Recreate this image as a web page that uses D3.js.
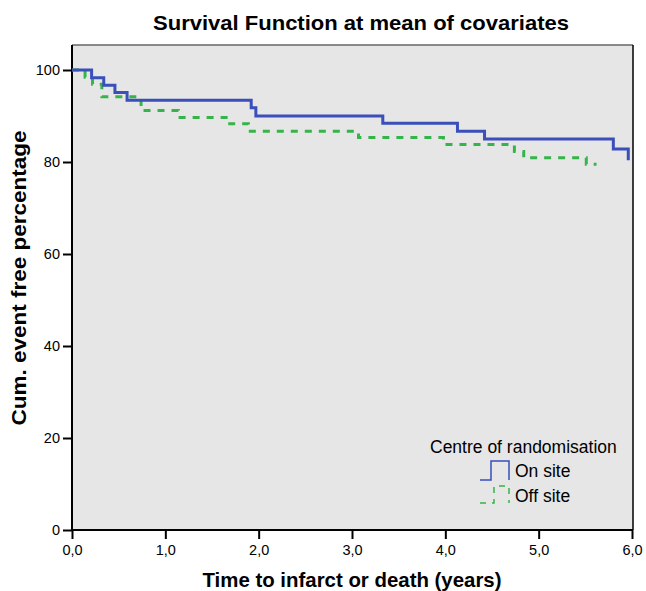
<!DOCTYPE html>
<html>
<head>
<meta charset="utf-8">
<script src="https://cdn.jsdelivr.net/npm/d3@7"></script>
<style>
  body { margin: 0; background: #fff; }
  text { font-family: "Liberation Sans", Arial, sans-serif; fill: #000; }
</style>
</head>
<body>
<script>
// on site (blue) - step times in years and survival %
var onTimes = [0, 0.21, 0.34, 0.46, 0.59, 1.92, 1.97, 3.33, 4.13, 4.42, 5.80, 5.96];
var onSurv = [100, 98.3, 96.7, 95.1, 93.4, 91.8, 90.0, 88.4, 86.7, 85.0, 82.8, 80.4];
// off site (green dashed)
var offTimes = [0, 0.14, 0.22, 0.32, 0.74, 1.14, 1.69, 1.89, 3.07, 3.98, 4.74, 4.84, 5.51, 5.62];
var offSurv = [100, 98.4, 96.9, 94.2, 91.2, 89.7, 88.3, 86.7, 85.3, 83.8, 82.3, 80.9, 79.5, 79.5];
var xTicks = [0, 1, 2, 3, 4, 5, 6];
var yTicks = [0, 20, 40, 60, 80, 100];

const w = 646,
    h = 591;
const pLeft = 72, pRight = 633, pTop = 45, pBottom = 530;

const svg = d3.select("body")
    .append("svg")
    .attr("width", w)
    .attr("height", h);

var xScale = d3.scaleLinear().domain([0, 6]).range([pLeft, 632]);
var yScale = d3.scaleLinear().domain([0, 100]).range([pBottom, 70]);

// plot area
svg.append("rect")
    .attr("x", pLeft)
    .attr("y", pTop)
    .attr("width", pRight - pLeft)
    .attr("height", pBottom - pTop)
    .attr("fill", "#e6e6e6");
svg.append("line")
    .attr("x1", pLeft).attr("x2", pRight)
    .attr("y1", pTop).attr("y2", pTop)
    .attr("stroke", "#666").attr("stroke-width", 1.5);
svg.append("line")
    .attr("x1", pRight).attr("x2", pRight)
    .attr("y1", pTop).attr("y2", pBottom)
    .attr("stroke", "#000").attr("stroke-width", 1.5);

// axes
var xAxis = d3.axisBottom(xScale)
    .tickValues(xTicks)
    .tickSize(9)
    .tickPadding(6)
    .tickFormat((d) => d3.format(".1f")(d).replace(".", ","));
var yAxis = d3.axisLeft(yScale)
    .tickValues(yTicks)
    .tickSize(9)
    .tickPadding(3);

var gx = svg.append("g")
    .attr("transform", "translate(0," + pBottom + ")")
    .call(xAxis);
var gy = svg.append("g")
    .attr("transform", "translate(" + pLeft + ",0)")
    .call(yAxis);

[gx, gy].forEach(function (g) {
    g.select(".domain").remove();
    g.selectAll(".tick line").attr("stroke", "#000").attr("stroke-width", 2);
    g.selectAll(".tick text")
        .attr("font-family", "Liberation Sans, Arial, sans-serif")
        .attr("font-size", 14.5)
        .attr("fill", "#000");
});
svg.append("line")
    .attr("x1", pLeft).attr("x2", pLeft)
    .attr("y1", pTop).attr("y2", pBottom + 1)
    .attr("stroke", "#000").attr("stroke-width", 2);
svg.append("line")
    .attr("x1", pLeft - 1).attr("x2", pRight)
    .attr("y1", pBottom).attr("y2", pBottom)
    .attr("stroke", "#000").attr("stroke-width", 2);

// survival curves
var line = d3.line()
    .x((d) => xScale(d[0]))
    .y((d) => yScale(d[1]))
    .curve(d3.curveStepAfter);

var offData = offTimes.map((t, i) => [t, offSurv[i]]);
var onData = onTimes.map((t, i) => [t, onSurv[i]]);

svg.append("path")
    .datum(offData)
    .attr("d", line)
    .attr("fill", "none")
    .attr("stroke", "#35b44a")
    .attr("stroke-width", 3)
    .attr("stroke-dasharray", "7,7");

svg.append("path")
    .datum(onData)
    .attr("d", line)
    .attr("fill", "none")
    .attr("stroke", "#3a4fb9")
    .attr("stroke-width", 3);

// titles
svg.append("text")
    .attr("x", 361)
    .attr("y", 30)
    .attr("text-anchor", "middle")
    .attr("font-size", 21)
    .attr("font-weight", "bold")
    .attr("textLength", 416)
    .attr("lengthAdjust", "spacingAndGlyphs")
    .text("Survival Function at mean of covariates");

svg.append("text")
    .attr("x", 352)
    .attr("y", 587)
    .attr("text-anchor", "middle")
    .attr("font-size", 21)
    .attr("font-weight", "bold")
    .attr("textLength", 299)
    .attr("lengthAdjust", "spacingAndGlyphs")
    .text("Time to infarct or death (years)");

svg.append("text")
    .attr("transform", "translate(26,278) rotate(-90)")
    .attr("text-anchor", "middle")
    .attr("font-size", 21)
    .attr("font-weight", "bold")
    .attr("textLength", 295)
    .attr("lengthAdjust", "spacingAndGlyphs")
    .text("Cum. event free percentage");

// legend
var legend = svg.append("g");
legend.append("text")
    .attr("x", 430)
    .attr("y", 453)
    .attr("font-size", 17.5)
    .text("Centre of randomisation");

legend.append("path")
    .attr("d", "M480,480H491V461H509V480")
    .attr("fill", "none")
    .attr("stroke", "#3a4fb9")
    .attr("stroke-width", 1.5);
legend.append("text")
    .attr("x", 515)
    .attr("y", 477)
    .attr("font-size", 17.5)
    .text("On site");

legend.append("path")
    .attr("d", "M480,503H494V486H509V503")
    .attr("fill", "none")
    .attr("stroke", "#35b44a")
    .attr("stroke-width", 1.5)
    .attr("stroke-dasharray", "6,6");
legend.append("text")
    .attr("x", 515)
    .attr("y", 502)
    .attr("font-size", 17.5)
    .text("Off site");
</script>
</body>
</html>
